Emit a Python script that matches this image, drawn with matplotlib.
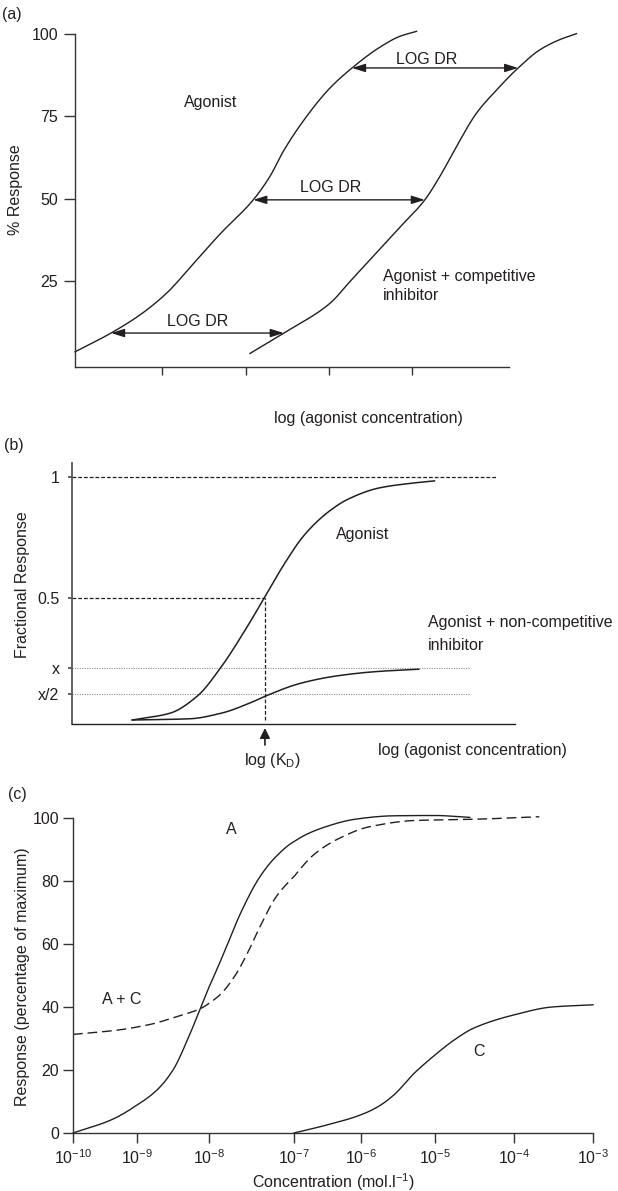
import numpy as np
import matplotlib
matplotlib.use("Agg")
import matplotlib.pyplot as plt

plt.rcParams['font.family'] = ['Liberation Sans', 'DejaVu Sans']
plt.rcParams['mathtext.fontset'] = 'custom'
plt.rcParams['mathtext.rm'] = 'Liberation Sans'
plt.rcParams['mathtext.it'] = 'Liberation Sans:italic'
plt.rcParams['mathtext.default'] = 'regular'

INK = '#231f20'
FS = 11.5
W, H = 618, 1191

# ---- (a) competitive inhibition: log concentration vs % response
a_xticks = [1, 2, 3, 4]
a_yticks = [25, 50, 75, 100]
ag_x = [-0.05, 0.39, 0.73, 1.05, 1.37, 1.69, 2.09, 2.29, 2.45, 2.73, 3.01, 3.29, 3.61, 3.85, 4.05]
ag_y = [3.6, 9.4, 14.8, 21.4, 30.3, 39.3, 49.7, 56.8, 64.4, 75.0, 83.6, 90.0, 96.0, 99.3, 100.8]
comp_x = [2.05, 2.45, 3.01, 3.25, 3.53, 3.85, 4.15, 4.33, 4.53, 4.77, 5.01, 5.27, 5.53, 5.77, 5.97]
comp_y = [3.1, 9.2, 18.3, 24.9, 32.6, 41.4, 49.7, 56.8, 65.9, 76.0, 83.0, 89.7, 95.2, 98.3, 100.1]
dr_levels = [89.7, 49.7, 9.3]

# ---- (b) non-competitive inhibition: fractional response
b_levels = [1.0, 0.5, 0.215, 0.1075]
b_labels = ['1', '0.5', 'x', 'x/2']
b_ag_x = [-2.95, -2.11, -1.50, -0.97, -0.44, 0.0, 0.44, 0.87, 1.40, 1.84, 2.54, 3.24, 3.77]
b_ag_y = [0.0, 0.028, 0.099, 0.219, 0.37, 0.507, 0.645, 0.76, 0.855, 0.908, 0.955, 0.974, 0.984]
b_nc_x = [-2.95, -1.67, -0.97, -0.27, 0.02, 0.79, 1.58, 2.46, 3.42]
b_nc_y = [0.0, 0.005, 0.028, 0.075, 0.099, 0.151, 0.181, 0.199, 0.209]
log_kd = 0.0

# ---- (c) concentration (log10 mol/l) vs response (% of maximum)
c_exps = [-10, -9, -8, -7, -6, -5, -4, -3]
c_yticks = [0, 20, 40, 60, 80, 100]
A_x = [-10, -9.41, -9.0, -8.72, -8.50, -8.28, -8.11, -7.98, -7.81, -7.63, -7.40, -7.21,
       -7.0, -6.53, -6.09, -5.56, -5.01, -4.56]
A_y = [0, 4.1, 8.9, 13.7, 20, 30.6, 40.1, 47.5, 58.1, 69.7, 81.4, 87.8,
       92.5, 97.2, 99.6, 100.7, 100.8, 100.2]
AC_x = [-10, -9.29, -8.85, -8.44, -8.11, -7.89, -7.70, -7.54, -7.40, -7.21, -7.0,
        -6.68, -6.32, -5.87, -5.28, -4.51, -3.68]
AC_y = [31.3, 32.7, 34.3, 37.0, 39.6, 43.4, 49.7, 57.5, 65.5, 75.0, 81.4,
        88.8, 93.6, 97.3, 99.2, 99.6, 100.4]
C_x = [-7.0, -6.50, -6.0, -5.76, -5.55, -5.28, -5.0, -4.77, -4.51, -4.0, -3.52, -3.0]
C_y = [0, 2.6, 5.8, 8.5, 12.2, 19.0, 24.8, 29.3, 33.3, 37.5, 40.0, 40.7]
# the printed decades are not evenly spaced along the axis
decade_pos = [0, 64, 136, 221, 288, 362, 441, 520]


def pchip(x, y, n=400):
    # monotone cubic through the read points (Fritsch-Carlson)
    x = np.asarray(x, float)
    y = np.asarray(y, float)
    h = np.diff(x)
    d = np.diff(y) / h
    m = np.zeros_like(y)
    m[0], m[-1] = d[0], d[-1]
    for k in range(1, len(x) - 1):
        if d[k - 1] * d[k] > 0:
            w1 = 2 * h[k] + h[k - 1]
            w2 = h[k] + 2 * h[k - 1]
            m[k] = (w1 + w2) / (w1 / d[k - 1] + w2 / d[k])
    xs = np.linspace(x[0], x[-1], n)
    i = np.clip(np.searchsorted(x, xs) - 1, 0, len(x) - 2)
    t = (xs - x[i]) / h[i]
    ys = ((2 * t ** 3 - 3 * t ** 2 + 1) * y[i] + (t ** 3 - 2 * t ** 2 + t) * h[i] * m[i]
          + (-2 * t ** 3 + 3 * t ** 2) * y[i + 1] + (t ** 3 - t ** 2) * h[i] * m[i + 1])
    return xs, ys


def fx(px):
    return px / W


def fy(py):
    return 1 - py / H


def ftext(px, py, s, **kw):
    kw.setdefault('ha', 'center')
    kw.setdefault('va', 'center')
    fig.text(fx(px), fy(py), s, fontsize=FS, color=INK, **kw)


def axes_px(left, top, right, bottom):
    return fig.add_axes([fx(left), fy(bottom), (right - left) / W, (bottom - top) / H])


def style(ax, lw=1.0, col='#333333'):
    for s in ['top', 'right']:
        ax.spines[s].set_visible(False)
    for s in ['left', 'bottom']:
        ax.spines[s].set_linewidth(lw)
        ax.spines[s].set_color(col)
    ax.tick_params(colors=col, labelcolor=INK, labelsize=FS, width=lw)
    ax.patch.set_alpha(0)


fig = plt.figure(figsize=(W / 100, H / 100), dpi=100)

# ================= (a)
ax = axes_px(75, 34, 509, 367)
style(ax)
ax.set_xlim(-0.05, 5.16)
ax.set_ylim(-1, 100)
ax.set_xticks(a_xticks)
ax.set_xticklabels([])
ax.set_yticks(a_yticks)
ax.tick_params(axis='y', length=8, pad=4)
ax.tick_params(axis='x', length=6)
sx1, sy1 = pchip(ag_x, ag_y)
sx2, sy2 = pchip(comp_x, comp_y)
ax.plot(sx1, sy1, color=INK, lw=1.0, clip_on=False)
ax.plot(sx2, sy2, color=INK, lw=1.0, clip_on=False)
for lev in dr_levels:
    xl = np.interp(lev, sy1, sx1)
    xr = np.interp(lev, sy2, sx2)
    ax.annotate('', xy=(xr, lev), xytext=(xl, lev), annotation_clip=False,
                arrowprops=dict(arrowstyle='<|-|>,head_length=0.8,head_width=0.25',
                                mutation_scale=10, color=INK, lw=1.0,
                                shrinkA=0, shrinkB=0))
ftext(2, 15, '(a)', ha='left')
ftext(16, 190, '% Response', rotation=90)
ftext(211, 103, 'Agonist')
ftext(427, 59, 'LOG DR')
ftext(331, 188, 'LOG DR')
ftext(198, 321, 'LOG DR')
ftext(383, 276, 'Agonist + competitive', ha='left')
ftext(383, 295, 'inhibitor', ha='left')
ftext(368, 418, 'log (agonist concentration)')

# ================= (b)
ax = axes_px(72, 463, 515, 724)
style(ax, lw=1.3, col='#555555')
ax.spines['bottom'].set_color('#222222')
ax.spines['bottom'].set_linewidth(1.0)
ax.set_xlim(-4.29, 5.56)
ax.set_ylim(-0.0165, 1.0576)
ax.set_xticks([])
ax.set_yticks(b_levels)
ax.set_yticklabels(b_labels)
ax.tick_params(axis='y', length=3, pad=6)
x0 = ax.get_xlim()[0]
ax.plot([x0, 5.13], [b_levels[0]] * 2, color=INK, lw=0.9, ls=(0, (3, 1.6)))
ax.plot([x0, log_kd], [b_levels[1]] * 2, color=INK, lw=0.9, ls=(0, (3, 1.6)))
ax.plot([log_kd, log_kd], [0, b_levels[1]], color=INK, lw=0.9, ls=(0, (3, 1.6)))
for lev in b_levels[2:]:
    ax.plot([x0, 4.56], [lev, lev], color='#8c8c8c', lw=0.8, ls=(0, (1, 1.2)))
bx1, by1 = pchip(b_ag_x, b_ag_y)
bx2, by2 = pchip(b_nc_x, b_nc_y)
ax.plot(bx1, by1, color=INK, lw=1.1, clip_on=False)
ax.plot(bx2, by2, color=INK, lw=1.1, clip_on=False)
ax.annotate('', xy=(log_kd, -0.033), xytext=(log_kd, -0.103),
            arrowprops=dict(arrowstyle='-|>,head_length=0.6,head_width=0.3',
                            mutation_scale=10, color=INK, lw=1.2,
                            shrinkA=0, shrinkB=0),
            annotation_clip=False)
ftext(4, 445, '(b)', ha='left')
ftext(23, 585, 'Fractional Response', rotation=90)
ftext(363, 535, 'Agonist')
ftext(428, 623, 'Agonist + non-competitive', ha='left')
ftext(428, 645, 'inhibitor', ha='left')
ftext(272, 760, r'log (K$_\mathrm{D}$)')
ftext(472, 750, 'log (agonist concentration)')

# ================= (c)
ax = axes_px(73, 818, 593, 1133)
style(ax)


def fwd(e):
    return np.interp(e, c_exps, decade_pos)


def inv(p):
    return np.interp(p, decade_pos, c_exps)


ax.set_xscale('function', functions=(fwd, inv))
ax.set_xlim(c_exps[0], c_exps[-1])
ax.set_ylim(0, 100)
ax.set_xticks(c_exps)
ax.set_xticklabels([r'$10^{%d}$' % e for e in c_exps])
ax.set_yticks(c_yticks)
ax.tick_params(axis='both', length=7, pad=3)
ax.tick_params(axis='x', pad=4)
cx, cy = pchip(A_x, A_y)
ax.plot(cx, cy, color=INK, lw=1.0, clip_on=False)
cx, cy = pchip(AC_x, AC_y)
ax.plot(cx, cy, color=INK, lw=1.0, ls=(0, (7, 3.5)), clip_on=False)
cx, cy = pchip(C_x, C_y)
ax.plot(cx, cy, color=INK, lw=1.0, clip_on=False)
ftext(8, 795, '(c)', ha='left')
ftext(23, 977, 'Response (percentage of maximum)', rotation=90)
ftext(231, 830, 'A')
ftext(122, 1000, 'A + C')
ftext(479, 1052, 'C')
ftext(333, 1182, r'Concentration (mol.l$^{-1}$)')

fig.savefig('out.png', dpi=100)
